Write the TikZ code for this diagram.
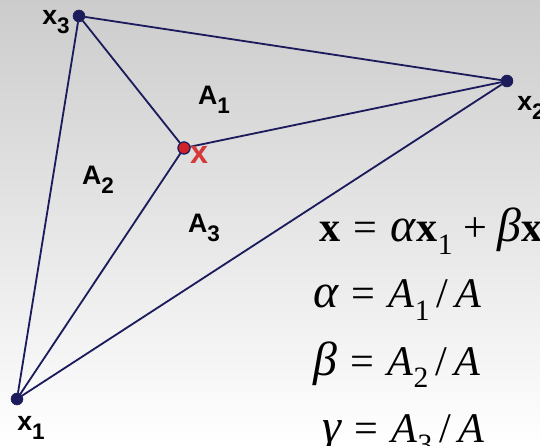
\documentclass[tikz,border=0pt]{standalone}
\usepackage{fontspec}
\setmainfont{Liberation Serif}
\setsansfont{Liberation Sans}
\usepackage{tikz}
\usetikzlibrary{positioning, calc}
\definecolor{lnnavy}{HTML}{1C1C5C}
\definecolor{ptred}{HTML}{D0202A}
\definecolor{lblred}{HTML}{D43A3A}
\newcommand{\lsub}[1]{\raisebox{-0.32em}{\fontsize{16}{16}\selectfont #1}}
\newcommand{\fsub}[1]{\raisebox{-0.3em}{\fontsize{21}{21}\selectfont #1}}
\newcommand{\gr}[1]{{\fontsize{34}{34}\selectfont\itshape #1}}
\newcommand{\eqs}{\hspace{2pt} = \hspace{2pt}}

\begin{document}
\begin{tikzpicture}[x=0.025cm, y=-0.025cm,
                pt/.style={draw=lnnavy, fill=lnnavy, circle, inner sep=0pt, minimum size=8.5pt},
                ptx/.style={draw=lnnavy, fill=ptred, circle, inner sep=0pt, minimum size=8.5pt, line width=0.8pt},
                edge/.style={draw=lnnavy, line width=1.3pt},
                lbl/.style={font=\fontsize{19}{19}\sffamily\bfseries, inner sep=0pt},
                formel/.style={font=\fontsize{30}{30}\selectfont, anchor=base west, inner sep=0pt}
            ]

            % Hintergrund
            \clip (0,0) rectangle (540,446);
            \shade[top color=black!20, bottom color=white] (0,0) rectangle (540,446);

            % Punkte
            \node[pt] (x1) at (17,399) {};
            \node[pt] (x2) at (507,81) {};
            \node[pt] (x3) at (79,16) {};
            \node[ptx] (x) at (184,148) {};

            % Kanten
            \draw[edge] (x1) -- (x2) -- (x3) -- (x1);
            \draw[edge] (x) -- (x1);
            \draw[edge] (x) -- (x2);
            \draw[edge] (x) -- (x3);
            \node[ptx] at (x) {};

            % Beschriftungen
            \node[lbl] (lx1) at (31,428) {x\lsub{1}};
            \node[lbl] (lx2) at (531,108) {x\lsub{2}};
            \node[lbl] (lx3) at (56,22) {x\lsub{3}};
            \node[lbl, text=lblred, font=\fontsize{23}{23}\sffamily\bfseries] (lx) at (199,155) {x};
            \node[lbl] (a1) at (214,100) {A\lsub{1}};
            \node[lbl] (a2) at (98,180) {A\lsub{2}};
            \node[lbl] (a3) at (204,228) {A\lsub{3}};

            % Formeln
            \node[formel] (f0) at (319,242) {\textbf{x}\eqs\gr{α}\textbf{x}\fsub{1} + \gr{β}\textbf{x}\fsub{2} + \gr{γ}\textbf{x}\fsub{3}};
            \node[formel] (f1) at (313,308) {\gr{α}\eqs\textit{A}\fsub{1}\,/\,\textit{A}};
            \node[formel] (f2) at (313,375) {\gr{β}\eqs\textit{A}\fsub{2}\,/\,\textit{A}};
            \node[formel] (f3) at (322,442) {\gr{γ}\eqs\textit{A}\fsub{3}\,/\,\textit{A}};

        \end{tikzpicture}
\end{document}
